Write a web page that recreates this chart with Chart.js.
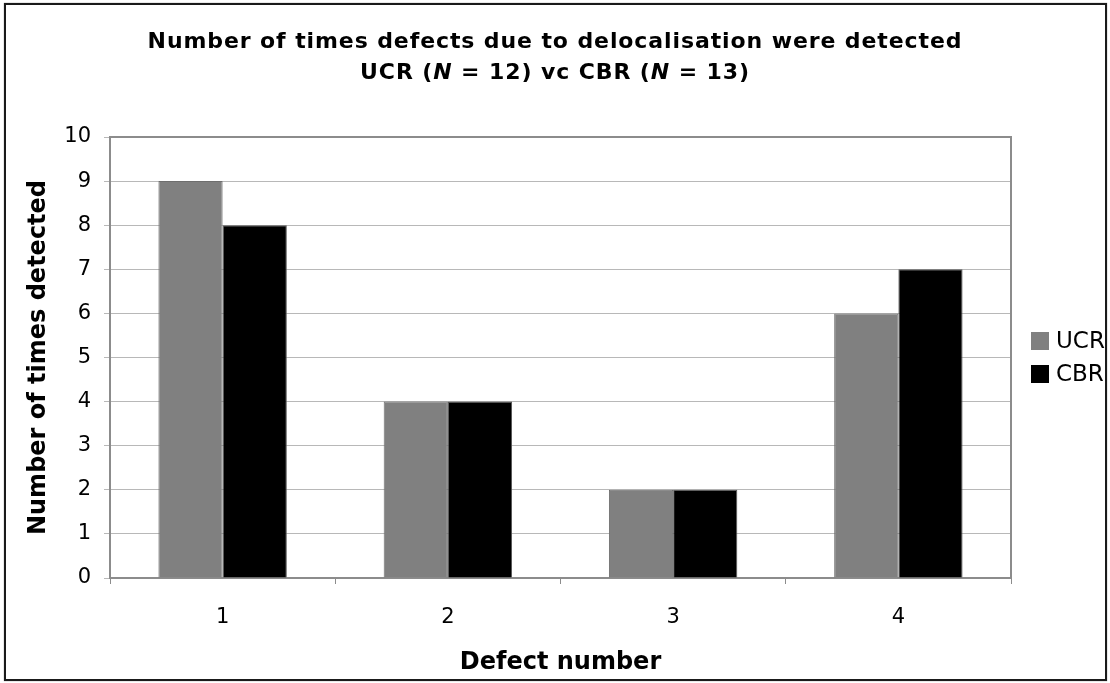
<!DOCTYPE html>
<html>
<head>
<meta charset="utf-8">
<script src="https://cdn.jsdelivr.net/npm/chart.js@4/dist/chart.umd.min.js"></script>
<style>
  html, body { margin: 0; padding: 0; background: #fff; }
  #wrap { position: relative; width: 1110px; height: 683px; overflow: hidden; }
  #frame {
    position: absolute; left: 4px; top: 3px; width: 1099px; height: 674px;
    border: 2px solid #1a1a1a; box-shadow: 0 0 1px #777; pointer-events: none;
  }
  #title {
    position: absolute; left: 0; top: 25px; width: 1110px; text-align: center;
    font-family: "DejaVu Sans", Verdana, sans-serif; font-weight: bold;
    font-size: 22px; letter-spacing: 0.9px; line-height: 31px; color: #000;
  }
  canvas { position: absolute; left: 0; top: 0; }
</style>
</head>
<body>
<div id="wrap">
  <canvas id="chart" width="1110" height="683"></canvas>
  <div id="title">Number of times defects due to delocalisation were detected<br>UCR (<i>N</i> = 12) vc CBR (<i>N</i> = 13)</div>
  <div id="frame"></div>
</div>
<script>
// Defect categories and detection counts per group
const defectNumbers = ['1', '2', '3', '4'];
const ucrCounts = [9, 4, 2, 6];
const cbrCounts = [8, 4, 2, 7];
const seriesNames = ['UCR', 'CBR'];

const FONT = '"DejaVu Sans", Verdana, sans-serif';

// Gray frame around the plotting area
const plotFrame = {
  id: 'plotFrame',
  beforeDatasetsDraw(chart) {
    const { ctx, chartArea: a } = chart;
    ctx.save();
    ctx.strokeStyle = '#8c8c8c';
    ctx.lineWidth = 2;
    ctx.strokeRect(a.left, a.top, a.right - a.left, a.bottom - a.top);
    ctx.restore();
  }
};

// Legend at the right, centred on the plotting area
const sideLegend = {
  id: 'sideLegend',
  afterDraw(chart) {
    const { ctx, chartArea: a } = chart;
    const ds = chart.data.datasets;
    const step = 33;
    const mid = (a.top + a.bottom) / 2;
    const y0 = mid - step * (ds.length - 1) / 2;
    ctx.save();
    ctx.font = '23px ' + FONT;
    ctx.textBaseline = 'middle';
    ctx.textAlign = 'left';
    ds.forEach((d, i) => {
      const cy = y0 + i * step;
      ctx.fillStyle = d.backgroundColor;
      ctx.fillRect(1031, cy - 9, 18, 18);
      ctx.fillStyle = '#000';
      ctx.fillText(d.label, 1056, cy + 1);
    });
    ctx.restore();
  }
};

new Chart(document.getElementById('chart'), {
  type: 'bar',
  data: {
    labels: defectNumbers,
    datasets: [
      { label: seriesNames[0], data: ucrCounts, backgroundColor: '#808080', borderColor: '#6e6e6e', borderWidth: 1 },
      { label: seriesNames[1], data: cbrCounts, backgroundColor: '#000000', borderColor: '#555555', borderWidth: 1 }
    ]
  },
  options: {
    responsive: false,
    animation: false,
    devicePixelRatio: 1,
    categoryPercentage: 0.57,
    barPercentage: 1.0,
    layout: { padding: { top: 137, right: 99, bottom: 6, left: 24 } },
    plugins: {
      legend: { display: false },
      title: { display: false },
      tooltip: { enabled: false }
    },
    scales: {
      x: {
        grid: { display: true, drawOnChartArea: false, drawTicks: true, tickLength: 6, color: '#8c8c8c', offset: true },
        border: { display: true, color: '#8c8c8c', width: 2 },
        ticks: { font: { family: FONT, size: 21 }, color: '#000', padding: 21 },
        title: { display: true, text: 'Defect number', font: { family: FONT, size: 24, weight: 'bold' }, color: '#000', padding: 0 },
        afterFit(scale) { scale.height = 99; }
      },
      y: {
        min: 0, max: 10,
        ticks: { stepSize: 1, font: { family: FONT, size: 21 }, color: '#000', padding: 13 },
        grid: { color: '#b8b8b8', lineWidth: 1, tickLength: 6 },
        border: { display: true, color: '#8c8c8c', width: 2 },
        title: { display: true, text: 'Number of times detected', font: { family: FONT, size: 24, weight: 'bold' }, color: '#000', padding: 0 },
        afterFit(scale) { scale.width = 86; }
      }
    }
  },
  plugins: [plotFrame, sideLegend]
});
</script>
</body>
</html>
